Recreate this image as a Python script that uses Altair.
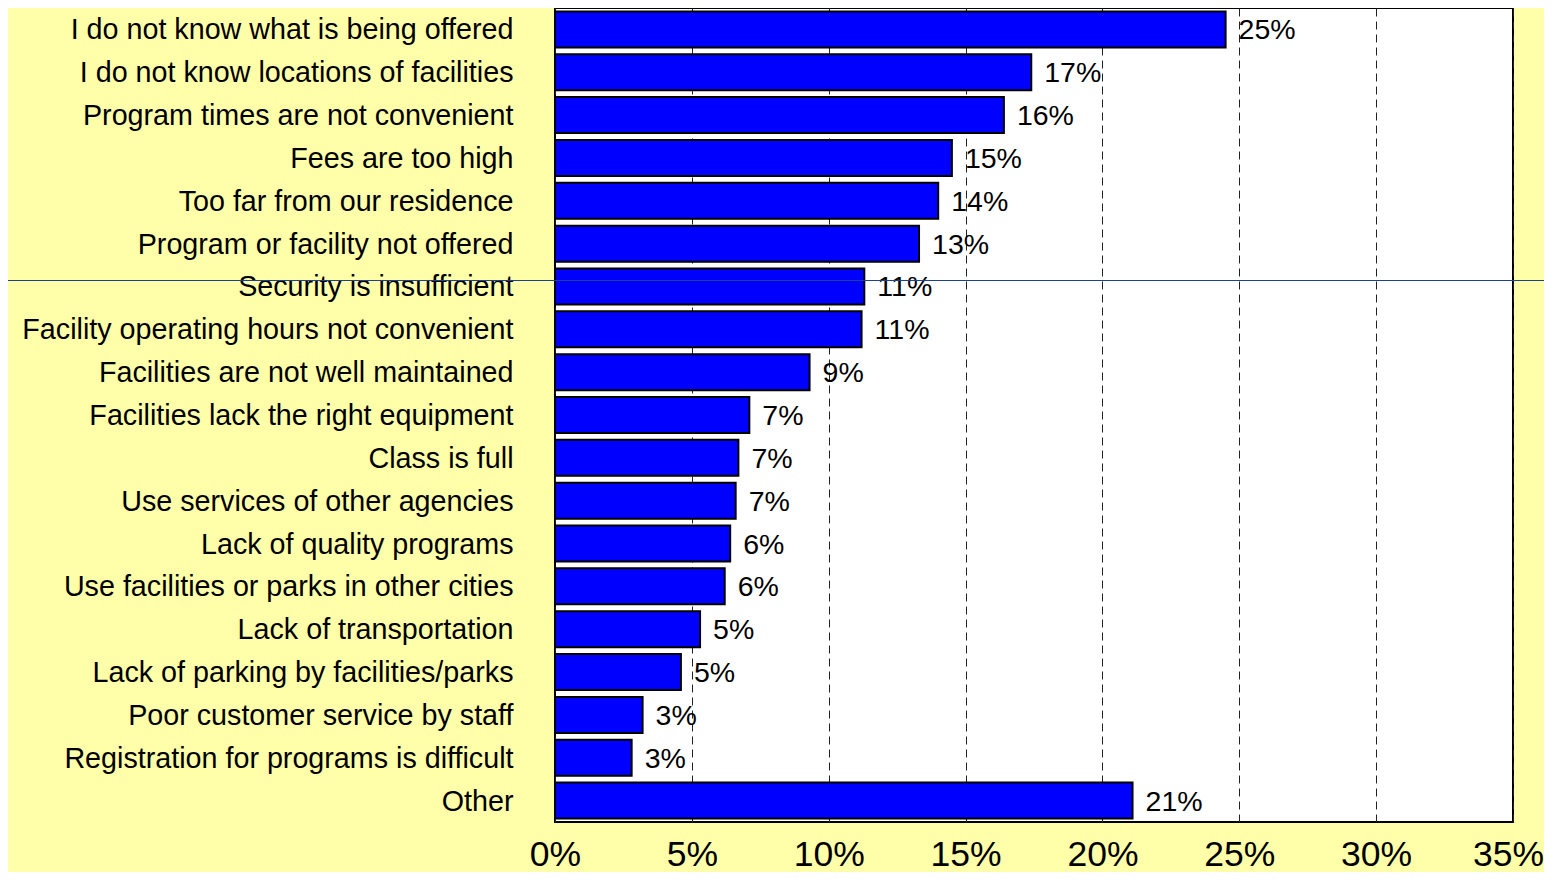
import altair as alt
import pandas as pd

categories = [
    "I do not know what is being offered",
    "I do not know locations of facilities",
    "Program times are not convenient",
    "Fees are too high",
    "Too far from our residence",
    "Program or facility not offered",
    "Security is insufficient",
    "Facility operating hours not convenient",
    "Facilities are not well maintained",
    "Facilities lack the right equipment",
    "Class is full",
    "Use services of other agencies",
    "Lack of quality programs",
    "Use facilities or parks in other cities",
    "Lack of transportation",
    "Lack of parking by facilities/parks",
    "Poor customer service by staff",
    "Registration for programs is difficult",
    "Other",
]
values = [24.5, 17.4, 16.4, 14.5, 14.0, 13.3, 11.3, 11.2, 9.3, 7.1, 6.7, 6.6, 6.4, 6.2, 5.3, 4.6, 3.2, 2.8, 21.1]
value_labels = ["25%", "17%", "16%", "15%", "14%", "13%", "11%", "11%", "9%", "7%", "7%", "7%", "6%", "6%", "5%", "5%", "3%", "3%", "21%"]
x_ticks = [0, 5, 10, 15, 20, 25, 30, 35]

df = pd.DataFrame({"category": categories, "value": values, "label": value_labels})

FONT = "Liberation Sans"

y_enc = alt.Y(
    "category:N",
    sort=categories,
    scale=alt.Scale(paddingInner=0.16, paddingOuter=0.08),
    axis=alt.Axis(
        title=None,
        labelFont=FONT,
        labelFontSize=28.7,
        labelColor="black",
        labelPadding=42,
        labelLimit=600,
        labelOffset=1,
        ticks=False,
        domain=False,
    ),
)
x_enc = alt.X(
    "value:Q",
    scale=alt.Scale(domain=[0, 35], nice=False),
    axis=alt.Axis(
        title=None,
        values=x_ticks,
        labelExpr="datum.value + '%'",
        labelFont=FONT,
        labelFontSize=35.5,
        labelColor="black",
        labelPadding=15,
        labelFlush=False,
        labelOffset={"condition": {"test": "datum.value == 35", "value": -5}, "value": 0},
        ticks=False,
        domain=False,
        grid=True,
        gridColor="#222222",
        gridDash=[8, 5],
        gridWidth=1,
    ),
)

bars = alt.Chart(df).mark_bar(color="#0000FF", stroke="black", strokeWidth=2).encode(
    x=x_enc, y=y_enc
)

texts = alt.Chart(df).mark_text(
    align="left", baseline="middle", dx=13, dy=1, font=FONT, fontSize=28.5, color="black"
).encode(x=alt.X("value:Q"), y=alt.Y("category:N", sort=categories), text="label:N")

line = alt.Chart(pd.DataFrame({"v": [1]})).mark_rule(color="#1F3F8F", strokeWidth=1).encode(
    x=alt.value(-560), x2=alt.value(1000), y=alt.value(272.5)
)

chart = (
    alt.layer(bars, texts, line)
    .properties(
        width=958,
        height=814,
        background="#FFFFAA",
        autosize=alt.AutoSizeParams(type="none"),
        padding={"left": 547, "top": 0, "right": 31, "bottom": 50},
    )
    .configure_view(stroke="black", strokeWidth=2, fill="white")
)

chart.save("out.html", embed_options={"renderer": "svg", "actions": False})
